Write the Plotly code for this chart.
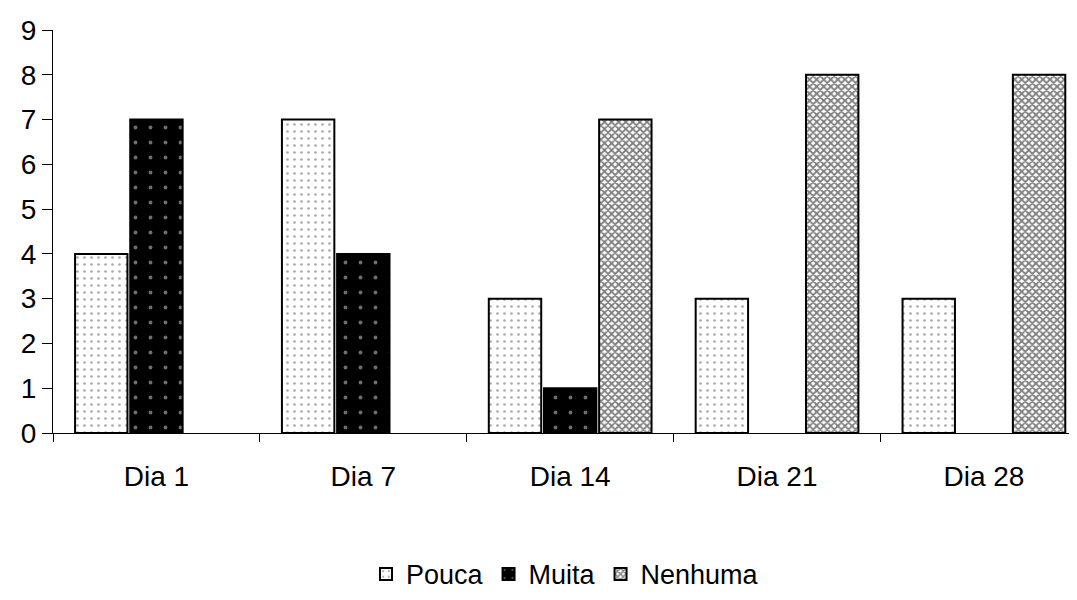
import plotly.graph_objects as go

categories = ["Dia 1", "Dia 7", "Dia 14", "Dia 21", "Dia 28"]
pouca = [4, 7, 3, 3, 3]
muita = [7, 4, 1, 0, 0]
nenhuma = [0, 0, 7, 8, 8]
y_ticks = list(range(0, 10))


def edge(vals):
    return [2 if v > 0 else 0 for v in vals]


fig = go.Figure()
fig.add_trace(go.Bar(
    name="Pouca", x=categories, y=pouca,
    marker=dict(color="white", line=dict(color="black", width=edge(pouca)),
                pattern=dict(shape=".", fgcolor="#555555", bgcolor="white", size=7, solidity=0.12)),
))
fig.add_trace(go.Bar(
    name="Muita", x=categories, y=muita,
    marker=dict(color="black", line=dict(color="black", width=edge(muita)),
                pattern=dict(shape=".", fgcolor="#dddddd", bgcolor="black", size=15, solidity=0.05)),
))
fig.add_trace(go.Bar(
    name="Nenhuma", x=categories, y=nenhuma,
    marker=dict(color="#888888", line=dict(color="black", width=edge(nenhuma)),
                pattern=dict(shape="x", fgcolor="black", bgcolor="white", size=5, solidity=0.6)),
))

fig.update_layout(
    width=1069, height=592,
    paper_bgcolor="white", plot_bgcolor="white",
    barmode="group", bargap=0.2, bargroupgap=0.05,
    margin=dict(l=45, r=0, t=22, b=167, autoexpand=False),
    font=dict(family="Liberation Sans, Arial, sans-serif", size=28, color="black"),
    showlegend=True,
    legend=dict(orientation="h", x=0.5, xanchor="center", y=-0.29, yanchor="top",
                font=dict(size=27), itemsizing="constant", traceorder="normal",
                itemwidth=30),
    xaxis=dict(range=[-0.5, 4.45], showline=True, linecolor="black", linewidth=1,
               ticks="outside", tickson="boundaries", ticklen=8, tickcolor="black",
               ticklabelstandoff=18, automargin=False,
               showgrid=False, zeroline=False),
    yaxis=dict(range=[0, 9], tickvals=y_ticks, showline=True, linecolor="black", linewidth=1,
               ticks="outside", ticklen=10, tickcolor="black", automargin=False,
               showgrid=False, zeroline=False),
)

fig.write_html("out.html")
